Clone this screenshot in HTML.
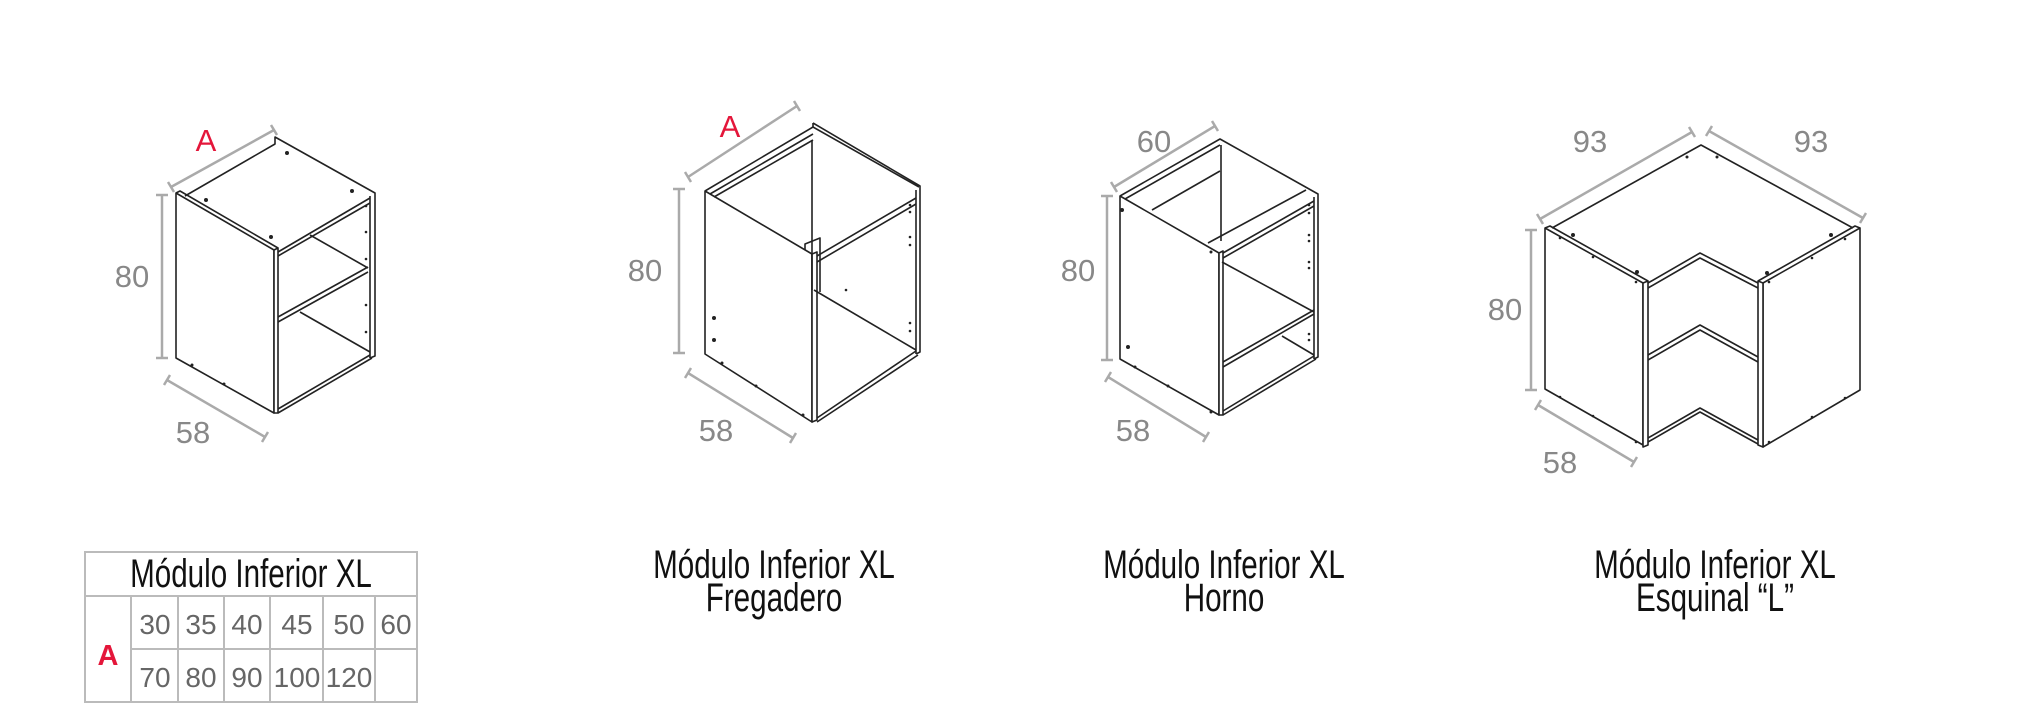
<!DOCTYPE html>
<html><head><meta charset="utf-8"><style>
html,body{margin:0;padding:0;background:#fff;}
svg{display:block;}
.c{fill:none;stroke:#222;stroke-width:1.6;stroke-linejoin:round;}
.p{fill:#fff;stroke:#222;stroke-width:1.6;stroke-linejoin:round;}
.d{fill:none;stroke:#aaa;stroke-width:2.5;}
.dl{font-family:"Liberation Sans",sans-serif;font-size:31px;fill:#888;text-anchor:middle;}
.red{fill:#e4163a;}
.t{font-family:"Liberation Sans",sans-serif;font-size:40px;fill:#111;text-anchor:middle;}
.n{font-family:"Liberation Sans",sans-serif;font-size:28px;fill:#666;text-anchor:middle;}
.g{fill:none;stroke:#bbb;stroke-width:2;}
.dot{fill:#222;}
</style></head><body>
<svg width="2025" height="721" viewBox="0 0 2025 721" xmlns="http://www.w3.org/2000/svg">

<!-- Cabinet 1 -->
<polygon class="p" points="176,193 274,250 274,413 176,358"/>
<polygon class="p" points="274,250 278,248 278,413 274,413"/>
<polyline class="c" points="176,193 180,191 278,248"/>
<polyline class="c" points="185,196 275,144 275,137 375,193 375,356 370,358"/>
<line class="c" x1="370" y1="196" x2="370" y2="358"/>
<line class="c" x1="278" y1="252" x2="370" y2="198"/>
<line class="c" x1="278" y1="256" x2="370" y2="203"/>
<line class="c" x1="278" y1="413" x2="372" y2="358"/>
<line class="c" x1="278" y1="409" x2="370" y2="355"/>
<line class="c" x1="278" y1="322" x2="368" y2="272"/>
<line class="c" x1="278" y1="317" x2="368" y2="267"/>
<line class="c" x1="310" y1="235" x2="368" y2="268"/>
<line class="c" x1="300" y1="312" x2="370" y2="352"/>
<circle class="dot" cx="287" cy="153" r="2"/><circle class="dot" cx="352" cy="191" r="2"/><circle class="dot" cx="206" cy="200" r="2"/><circle class="dot" cx="271" cy="237" r="2"/>
<circle class="dot" cx="366" cy="206" r="1.3"/><circle class="dot" cx="366" cy="232" r="1.3"/><circle class="dot" cx="366" cy="259" r="1.3"/><circle class="dot" cx="366" cy="305" r="1.3"/><circle class="dot" cx="366" cy="332" r="1.3"/>
<circle class="dot" cx="192" cy="365" r="1.5"/><circle class="dot" cx="224" cy="384" r="1.5"/>
<polyline class="d" points="171,187 274,130"/><line class="d" x1="168" y1="182" x2="174" y2="192"/><line class="d" x1="271" y1="125" x2="277" y2="135"/>
<line class="d" x1="162" y1="195" x2="162" y2="358"/><line class="d" x1="156" y1="195" x2="168" y2="195"/><line class="d" x1="156" y1="358" x2="168" y2="358"/>
<line class="d" x1="167" y1="380" x2="265" y2="437"/><line class="d" x1="164" y1="385" x2="170" y2="375"/><line class="d" x1="262" y1="442" x2="268" y2="432"/>
<text class="dl red" x="206" y="151">A</text>
<text class="dl" x="132" y="287">80</text>
<text class="dl" x="193" y="443">58</text>

<!-- Cabinet 2 -->
<polygon class="p" points="705,191 812,254 812,422 705,354"/>
<polygon class="p" points="812,254 817,252 817,420 812,422"/>
<polyline class="c" points="705,191 813,127 919,187"/>
<polyline class="c" points="710,194 813,134"/>
<polyline class="c" points="714,197 813,140"/>
<polyline class="c" points="813,123 813,127"/>
<polyline class="c" points="813,123 920,186 920,352 916,354"/>
<line class="c" x1="916" y1="190" x2="916" y2="354"/>
<line class="c" x1="812" y1="140" x2="812" y2="290"/>
<line class="c" x1="817" y1="256" x2="916" y2="198"/>
<line class="c" x1="817" y1="262" x2="916" y2="204"/>
<polyline class="c" points="805,250 805,244 820,238 820,292"/>
<line class="c" x1="817" y1="422" x2="918" y2="355"/>
<line class="c" x1="817" y1="418" x2="916" y2="351"/>
<line class="c" x1="814" y1="290" x2="916" y2="350"/>
<circle class="dot" cx="714" cy="318" r="2"/><circle class="dot" cx="714" cy="340" r="2"/><circle class="dot" cx="722" cy="363" r="1.5"/><circle class="dot" cx="756" cy="386" r="1.5"/><circle class="dot" cx="803" cy="415" r="1.5"/>
<circle class="dot" cx="910" cy="205" r="1.3"/><circle class="dot" cx="910" cy="212" r="1.3"/><circle class="dot" cx="910" cy="237" r="1.3"/><circle class="dot" cx="910" cy="245" r="1.3"/><circle class="dot" cx="910" cy="323" r="1.3"/><circle class="dot" cx="910" cy="331" r="1.3"/><circle class="dot" cx="846" cy="290" r="1.3"/>
<line class="d" x1="688" y1="177" x2="797" y2="106"/><line class="d" x1="685" y1="172" x2="691" y2="182"/><line class="d" x1="794" y1="101" x2="800" y2="111"/>
<line class="d" x1="679" y1="189" x2="679" y2="353"/><line class="d" x1="673" y1="189" x2="685" y2="189"/><line class="d" x1="673" y1="353" x2="685" y2="353"/>
<line class="d" x1="688" y1="373" x2="793" y2="438"/><line class="d" x1="685" y1="378" x2="691" y2="368"/><line class="d" x1="790" y1="443" x2="796" y2="433"/>
<text class="dl red" x="730" y="137">A</text>
<text class="dl" x="645" y="281">80</text>
<text class="dl" x="716" y="441">58</text>

<!-- Cabinet 3 -->
<polygon class="p" points="1120,196 1219,253 1219,415 1120,359"/>
<polygon class="p" points="1219,253 1223,251 1223,415 1219,415"/>
<polyline class="c" points="1120,196 1220,139 1318,194 1318,357 1314,359"/>
<polyline class="c" points="1125,199 1220,145"/>
<line class="c" x1="1314" y1="197" x2="1314" y2="359"/>
<line class="c" x1="1152" y1="210" x2="1220" y2="171"/>
<line class="c" x1="1221" y1="145" x2="1221" y2="241"/>
<line class="c" x1="1208" y1="243" x2="1306" y2="190"/>
<line class="c" x1="1223" y1="253" x2="1314" y2="201"/>
<line class="c" x1="1223" y1="258" x2="1314" y2="206"/>
<line class="c" x1="1222" y1="262" x2="1314" y2="312"/>
<line class="c" x1="1223" y1="367" x2="1314" y2="314"/>
<line class="c" x1="1223" y1="362" x2="1314" y2="310"/>
<line class="c" x1="1282" y1="336" x2="1314" y2="355"/>
<line class="c" x1="1223" y1="415" x2="1316" y2="359"/>
<line class="c" x1="1223" y1="411" x2="1314" y2="356"/>
<circle class="dot" cx="1122" cy="210" r="2"/><circle class="dot" cx="1128" cy="347" r="2"/><circle class="dot" cx="1135" cy="367" r="1.5"/><circle class="dot" cx="1168" cy="386" r="1.5"/><circle class="dot" cx="1211" cy="412" r="1.5"/><circle class="dot" cx="1211" cy="252" r="1.5"/>
<circle class="dot" cx="1309" cy="205" r="1.3"/><circle class="dot" cx="1309" cy="213" r="1.3"/><circle class="dot" cx="1309" cy="235" r="1.3"/><circle class="dot" cx="1309" cy="241" r="1.3"/><circle class="dot" cx="1309" cy="262" r="1.3"/><circle class="dot" cx="1309" cy="268" r="1.3"/><circle class="dot" cx="1309" cy="334" r="1.3"/><circle class="dot" cx="1309" cy="340" r="1.3"/>
<line class="d" x1="1114" y1="187" x2="1215" y2="126"/><line class="d" x1="1111" y1="182" x2="1117" y2="192"/><line class="d" x1="1212" y1="121" x2="1218" y2="131"/>
<line class="d" x1="1107" y1="196" x2="1107" y2="360"/><line class="d" x1="1101" y1="196" x2="1113" y2="196"/><line class="d" x1="1101" y1="360" x2="1113" y2="360"/>
<line class="d" x1="1108" y1="377" x2="1206" y2="437"/><line class="d" x1="1105" y1="382" x2="1111" y2="372"/><line class="d" x1="1203" y1="442" x2="1209" y2="432"/>
<text class="dl" x="1154" y="152">60</text>
<text class="dl" x="1078" y="281">80</text>
<text class="dl" x="1133" y="441">58</text>

<!-- Cabinet 4 -->
<polygon class="p" points="1545,228 1643,283 1643,445 1545,389"/>
<polygon class="p" points="1643,283 1648,281 1648,445 1643,447"/>
<polygon class="p" points="1763,283 1860,228 1860,390 1763,447"/>
<polygon class="p" points="1758,281 1763,283 1763,447 1758,445"/>
<polyline class="c" points="1545,228 1550,226 1648,281"/>
<polyline class="c" points="1860,228 1855,226 1758,281"/>
<polyline class="c" points="1552,228 1701,145 1853,228"/>
<polyline class="c" points="1648,283 1700,253 1758,283"/>
<polyline class="c" points="1648,288 1700,258 1758,288"/>
<polyline class="c" points="1648,355 1700,325 1758,357"/>
<polyline class="c" points="1648,360 1700,330 1758,362"/>
<polyline class="c" points="1648,442 1700,412 1758,444"/>
<polyline class="c" points="1648,438 1700,408 1758,440"/>
<circle class="dot" cx="1573" cy="235" r="2"/><circle class="dot" cx="1637" cy="272" r="2"/><circle class="dot" cx="1831" cy="235" r="2"/><circle class="dot" cx="1767" cy="273" r="2"/><circle class="dot" cx="1687" cy="157" r="1.5"/><circle class="dot" cx="1717" cy="157" r="1.5"/>
<circle class="dot" cx="1560" cy="238" r="1.3"/><circle class="dot" cx="1593" cy="257" r="1.3"/><circle class="dot" cx="1636" cy="282" r="1.3"/><circle class="dot" cx="1560" cy="397" r="1.3"/><circle class="dot" cx="1593" cy="416" r="1.3"/><circle class="dot" cx="1636" cy="442" r="1.3"/>
<circle class="dot" cx="1845" cy="239" r="1.3"/><circle class="dot" cx="1812" cy="258" r="1.3"/><circle class="dot" cx="1769" cy="282" r="1.3"/><circle class="dot" cx="1845" cy="398" r="1.3"/><circle class="dot" cx="1812" cy="417" r="1.3"/><circle class="dot" cx="1769" cy="442" r="1.3"/>
<line class="d" x1="1540" y1="219" x2="1692" y2="132"/><line class="d" x1="1537" y1="214" x2="1543" y2="224"/><line class="d" x1="1689" y1="127" x2="1695" y2="137"/>
<line class="d" x1="1709" y1="131" x2="1863" y2="218"/><line class="d" x1="1712" y1="126" x2="1706" y2="136"/><line class="d" x1="1866" y1="213" x2="1860" y2="223"/>
<line class="d" x1="1531" y1="230" x2="1531" y2="390"/><line class="d" x1="1525" y1="230" x2="1537" y2="230"/><line class="d" x1="1525" y1="390" x2="1537" y2="390"/>
<line class="d" x1="1538" y1="405" x2="1634" y2="462"/><line class="d" x1="1535" y1="410" x2="1541" y2="400"/><line class="d" x1="1631" y1="467" x2="1637" y2="457"/>
<text class="dl" x="1590" y="152">93</text>
<text class="dl" x="1811" y="152">93</text>
<text class="dl" x="1505" y="320">80</text>
<text class="dl" x="1560" y="473">58</text>

<!-- Titles -->
<g transform="translate(774,578) scale(0.74,1)"><text class="t" x="0" y="0">Módulo Inferior XL</text><text class="t" x="0" y="33">Fregadero</text></g>
<g transform="translate(1224,578) scale(0.74,1)"><text class="t" x="0" y="0">Módulo Inferior XL</text><text class="t" x="0" y="33">Horno</text></g>
<g transform="translate(1715,578) scale(0.74,1)"><text class="t" x="0" y="0">Módulo Inferior XL</text><text class="t" x="0" y="33">Esquinal “L”</text></g>

<!-- Table -->
<rect class="g" x="85" y="552" width="332" height="150"/>
<line class="g" x1="85" y1="596" x2="417" y2="596"/>
<line class="g" x1="131" y1="596" x2="131" y2="702"/>
<line class="g" x1="131" y1="649" x2="417" y2="649"/>
<line class="g" x1="178" y1="596" x2="178" y2="702"/>
<line class="g" x1="224" y1="596" x2="224" y2="702"/>
<line class="g" x1="270" y1="596" x2="270" y2="702"/>
<line class="g" x1="323" y1="596" x2="323" y2="702"/>
<line class="g" x1="375" y1="596" x2="375" y2="702"/>
<g transform="translate(251,587) scale(0.74,1)"><text class="t" x="0" y="0">Módulo Inferior XL</text></g>
<text x="108" y="665" style="font-family:'Liberation Sans',sans-serif;font-size:29px;font-weight:bold;fill:#e4163a;text-anchor:middle">A</text>
<text class="n" x="155" y="634">30</text><text class="n" x="201" y="634">35</text><text class="n" x="247" y="634">40</text><text class="n" x="297" y="634">45</text><text class="n" x="349" y="634">50</text><text class="n" x="396" y="634">60</text>
<text class="n" x="155" y="687">70</text><text class="n" x="201" y="687">80</text><text class="n" x="247" y="687">90</text><text class="n" x="297" y="687">100</text><text class="n" x="349" y="687">120</text>
</svg>
</body></html>
